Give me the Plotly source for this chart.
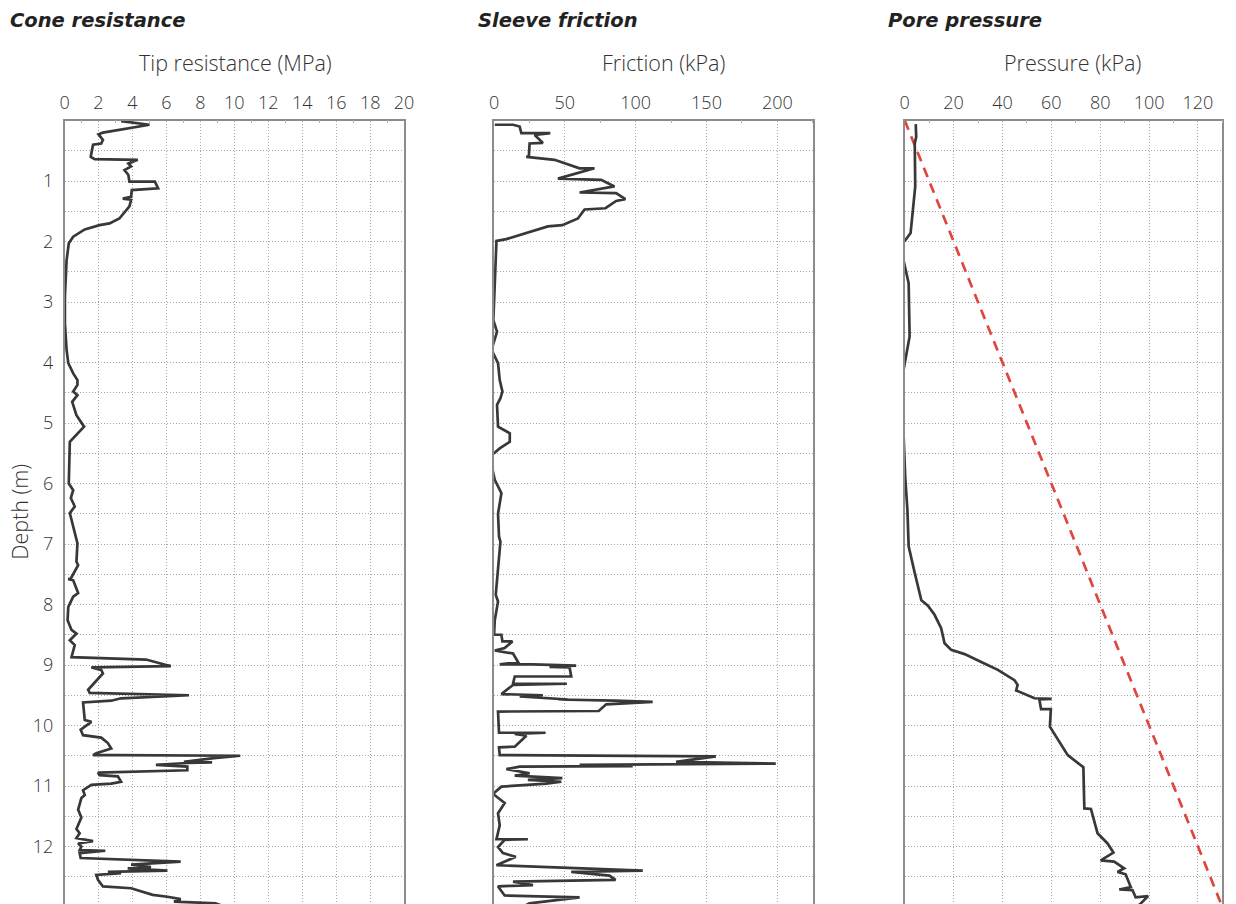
import plotly.graph_objects as go

# ---------------- data ----------------
tip_depth = [0.01, 0.07, 0.20, 0.23, 0.32, 0.38, 0.40, 0.60, 0.64, 0.65, 0.71, 0.76, 0.82, 0.90, 1.01, 1.01,
             1.12, 1.15, 1.26, 1.29, 1.31, 1.42, 1.62, 1.70, 1.73, 1.80, 1.92, 2.03, 2.31, 2.91, 3.35, 3.79,
             4.01, 4.18, 4.29, 4.37, 4.48, 4.54, 4.65, 4.87, 5.06, 5.31, 6.00, 6.11, 6.24, 6.38, 6.49, 6.71,
             6.99, 7.29, 7.35, 7.57, 7.58, 7.60, 7.81, 7.87, 8.04, 8.26, 8.42, 8.48, 8.59, 8.67, 8.87, 8.91,
             9.02, 9.04, 9.08, 9.14, 9.41, 9.46, 9.50, 9.55, 9.59, 9.62, 9.91, 9.94, 10.07, 10.16, 10.20, 10.29,
             10.38, 10.46, 10.49, 10.49, 10.50, 10.54, 10.60, 10.61, 10.62, 10.65, 10.68, 10.74, 10.76, 10.78,
             10.82, 10.84, 10.93, 10.96, 10.98, 11.07, 11.15, 11.20, 11.39, 11.52, 11.71, 11.78, 11.86, 11.91,
             11.95, 12.00, 12.06, 12.07, 12.11, 12.19, 12.25, 12.30, 12.34, 12.36, 12.40, 12.42, 12.44, 12.47,
             12.55, 12.66, 12.69, 12.80, 12.83, 12.87, 12.91, 12.94, 13.00]
tip_qc = [3.33, 5.00, 2.26, 2.00, 2.26, 2.16, 1.68, 1.54, 1.77, 4.31, 3.76, 3.92, 3.53, 3.76, 3.82, 5.32,
          5.51, 3.96, 3.92, 3.43, 3.92, 3.82, 3.23, 2.65, 2.06, 1.19, 0.51, 0.25, 0.12, 0.02, 0.02, 0.12,
          0.22, 0.51, 0.76, 0.76, 0.51, 0.76, 0.45, 0.70, 1.15, 0.31, 0.25, 0.51, 0.37, 0.60, 0.31, 0.51,
          0.76, 0.70, 0.80, 0.37, 0.22, 0.51, 0.80, 0.51, 0.22, 0.18, 0.41, 0.70, 0.31, 0.60, 0.41, 4.80,
          6.26, 1.58, 2.16, 2.26, 1.39, 1.48, 7.33, 3.33, 2.75, 1.09, 1.19, 1.58, 0.95, 1.09, 2.16, 2.55,
          2.75, 1.87, 1.68, 3.04, 10.35, 8.79, 7.03, 8.69, 7.23, 5.38, 7.23, 7.23, 3.72, 1.97,
          2.06, 3.14, 3.33, 2.75, 1.58, 1.09, 1.19, 0.99, 0.80, 0.99, 0.70, 0.89, 0.70, 1.68,
          0.80, 0.99, 0.89, 2.40, 0.89, 0.95, 6.84, 3.92, 5.09, 3.72, 6.06, 2.55, 3.33, 1.87,
          1.97, 2.26, 3.92, 5.19, 6.06, 6.84, 6.45, 8.89, 9.50]

fs_depth = [0.07, 0.07, 0.10, 0.21, 0.21, 0.24, 0.37, 0.38, 0.59, 0.60, 0.65, 0.79, 0.79, 0.96, 0.98, 1.09,
            1.19, 1.20, 1.30, 1.33, 1.45, 1.47, 1.62, 1.73, 1.75, 1.96, 1.99, 2.58, 3.30, 3.49, 3.79, 4.01,
            4.29, 4.48, 4.59, 4.70, 5.06, 5.17, 5.31, 5.42, 5.56, 5.94, 6.16, 6.50, 6.88, 6.96, 7.38, 7.84,
            7.95, 8.26, 8.50, 8.50, 8.61, 8.61, 8.72, 8.76, 8.81, 8.95, 8.99, 8.99, 9.01, 9.03, 9.04, 9.19,
            9.19, 9.31, 9.31, 9.33, 9.48, 9.50, 9.52, 9.57, 9.57, 9.59, 9.61, 9.65, 9.76, 9.77, 10.12, 10.12,
            10.14, 10.17, 10.35, 10.36, 10.49, 10.51, 10.60, 10.63, 10.65, 10.67, 10.68, 10.72, 10.79, 10.83,
            10.87, 10.90, 10.93, 10.96, 11.01, 11.13, 11.28, 11.45, 11.65, 11.88, 11.88, 11.89, 12.01, 12.11,
            12.17, 12.31, 12.40, 12.42, 12.48, 12.55, 12.58, 12.64, 12.65, 12.66, 12.81, 12.84, 12.94, 13.00]
fs_val = [0.5, 13.4, 18.1, 19.3, 39.7, 28.7, 34.5, 25.1, 24.6, 22.8, 42.7, 60.4, 70.9, 45.1, 75.6, 85.0,
          60.4, 86.2, 92.7, 86.2, 78.7, 63.9, 59.2, 48.2, 38.0, 8.7, 1.7, 0.5, -0.5, 2.1, -1.8, 2.8,
          4.0, 5.9, 4.5, 2.1, 2.8, 11.1, 11.1, 4.0, -3.0, 0.5, 5.2, 2.8, 3.5, 4.5, 2.8, 1.2,
          2.8, 0.5, 0.0, 5.2, 5.9, 13.0, 7.5, 0.5, 13.4, 16.9, 4.0, 27.5, 58.0, 39.2, 53.3, 54.5,
          14.6, 13.4, 51.4, 13.4, 5.2, 34.5, 18.1, 52.1, 45.1, 85.0, 112.0, 79.2, 73.9, 2.8, 3.5, 36.4,
          14.6, 22.8, 14.6, 3.5, 4.0, 156.6, 128.5, 198.9, 60.4, 97.9, 18.1, 8.7, 25.1, 14.6,
          48.2, 23.9, 47.5, 36.9, 5.2, -0.7, 7.5, 2.8, 4.0, 1.7, 23.9, 7.5, 2.8, 6.3,
          15.3, 1.7, 105.0, 54.5, 81.5, 85.8, 13.4, 27.5, 12.3, 2.8, 7.5, 60.4, 25.1, 20.0]

u_depth = [0.06, 0.27, 0.38, 1.09, 1.86, 2.03, 2.20, 2.69, 3.57, 4.01, 4.37, 4.95, 5.89, 6.44, 7.04, 7.48,
           7.93, 8.02, 8.17, 8.39, 8.64, 8.75, 8.82, 8.95, 9.08, 9.25, 9.33, 9.42, 9.55, 9.56, 9.57, 9.73,
           9.73, 10.02, 10.49, 10.69, 11.37, 11.38, 11.78, 11.95, 12.10, 12.23, 12.25, 12.36, 12.42, 12.46,
           12.67, 12.71, 12.72, 12.84, 12.82, 12.94, 13.00]
u_val = [4.5, 4.7, 4.1, 4.3, 2.4, -0.7, -1.1, 1.6, 2.0, 0.0, -1.6, -0.7, 0.2, 1.1, 1.6, 4.1,
         6.8, 9.5, 12.2, 14.9, 16.3, 19.0, 24.5, 31.3, 38.1, 44.9, 46.2, 45.6, 53.1, 60.1, 55.1, 55.8,
         59.8, 59.4, 66.7, 73.1, 73.5, 76.2, 78.9, 83.0, 85.4, 80.2, 85.7, 89.8, 87.1, 90.4,
         92.5, 87.8, 93.2, 94.5, 99.6, 96.6, 95.0]

hydro_depth = [0.0, 13.0]
hydro_u = [0.0, 130.0]

panel_titles = ["Cone resistance", "Sleeve friction", "Pore pressure"]
axis_titles = ["Tip resistance (MPa)", "Friction (kPa)", "Pressure (kPa)"]
depth_title = "Depth (m)"
depth_ticks = list(range(1, 13))

# ---------------- style ----------------
W, H = 1236, 904
FONT = "Open Sans"
TFONT = "DejaVu Sans"
TXT = "#333333"
LINE = "#383838"
GRID = "#a8a8a8"
BORDER = "#8c8c8c"
RED = "#e0463c"

def px(xp):   # target page x -> paper x (small horizontal correction)
    return ((xp - 3.2) / 0.992) / W

def py(yp):   # page y -> paper y
    return 1 - yp / H

top_px = 120.5
px_per_m = 60.5
ydom = [0, py(top_px)]
depth_bottom = (H - top_px) / px_per_m
xdoms = [[px(63), px(404)], [px(494.3), px(814.3)], [px(906.7), min(px(1225.7), 1.0)]]
xranges = [[0, 20], [0, 225], [0, 130]]
xdticks = [2, 50, 20]

fig = go.Figure()
fig.add_trace(go.Scatter(x=tip_qc, y=tip_depth, mode="lines", xaxis="x", yaxis="y",
                         line=dict(color=LINE, width=2.7), showlegend=False))
fig.add_trace(go.Scatter(x=fs_val, y=fs_depth, mode="lines", xaxis="x2", yaxis="y2",
                         line=dict(color=LINE, width=2.7), showlegend=False))
fig.add_trace(go.Scatter(x=hydro_u, y=hydro_depth, mode="lines", xaxis="x3", yaxis="y3",
                         line=dict(color=RED, width=2.7, dash="10px,7px"), showlegend=False))
fig.add_trace(go.Scatter(x=u_val, y=u_depth, mode="lines", xaxis="x3", yaxis="y3",
                         line=dict(color=LINE, width=2.7), showlegend=False))

tickfont = dict(family=FONT, size=18, color=TXT, weight=300)
layout = dict(width=W, height=H, margin=dict(l=0, r=0, t=0, b=0),
              paper_bgcolor="white", plot_bgcolor="white", showlegend=False)

minor_y = [k * 0.5 for k in range(1, 26) if k % 2 == 1]
for i in range(3):
    sfx = "" if i == 0 else str(i + 1)
    layout["xaxis" + sfx] = dict(
        domain=xdoms[i], range=xranges[i], side="top", anchor="y" + sfx,
        tickmode="linear", tick0=0, dtick=xdticks[i], ticks="", tickfont=tickfont,
        ticklabelstandoff=3,
        showgrid=True, gridcolor=GRID, griddash="1px,2px", gridwidth=1, zeroline=False,
        showline=True, linecolor=BORDER, linewidth=1.5, mirror=False,
        minor=dict(dtick=xdticks[i] / 2, tick0=0, ticks="inside", ticklen=3,
                   tickcolor="#b0b0b0", showgrid=False),
        fixedrange=True)
    layout["yaxis" + sfx] = dict(
        domain=ydom, range=[depth_bottom, 0.0], anchor="x" + sfx,
        tickmode="array", tickvals=depth_ticks, ticks="", tickfont=tickfont,
        showticklabels=(i == 0), ticklabelstandoff=6,
        showgrid=True, gridcolor=GRID, griddash="1px,2px", gridwidth=1, zeroline=False,
        minor=dict(tickmode="array", tickvals=minor_y, showgrid=True, gridcolor=GRID,
                   griddash="1px,2px", gridwidth=1),
        showline=True, linecolor=BORDER, linewidth=1.5, mirror=True,
        fixedrange=True)

title_x = [6, 476, 888]
atitle_x = [235, 664, 1075]
annotations = []
for i in range(3):
    annotations.append(dict(text=panel_titles[i], x=px(title_x[i]), y=py(20), xref="paper", yref="paper",
                            xanchor="left", yanchor="middle", showarrow=False,
                            font=dict(family=TFONT, size=19.5, color="#222222", weight=700, style="italic")))
    annotations.append(dict(text=axis_titles[i], x=px(atitle_x[i]), y=py(62), xref="paper", yref="paper",
                            xanchor="center", yanchor="middle", showarrow=False,
                            font=dict(family=FONT, size=21.5, color=TXT, weight=300)))
annotations.append(dict(text=depth_title, x=px(17), y=py(512), xref="paper", yref="paper",
                        xanchor="center", yanchor="middle", textangle=-90, showarrow=False,
                        font=dict(family=FONT, size=21.5, color=TXT, weight=300)))
layout["annotations"] = annotations

fig.update_layout(**layout)
fig.write_html("out.html", config={"displayModeBar": False},
               post_script="document.body.style.margin='0';"
                           "document.body.style.overflow='hidden';"
                           "document.documentElement.style.overflow='hidden';")
